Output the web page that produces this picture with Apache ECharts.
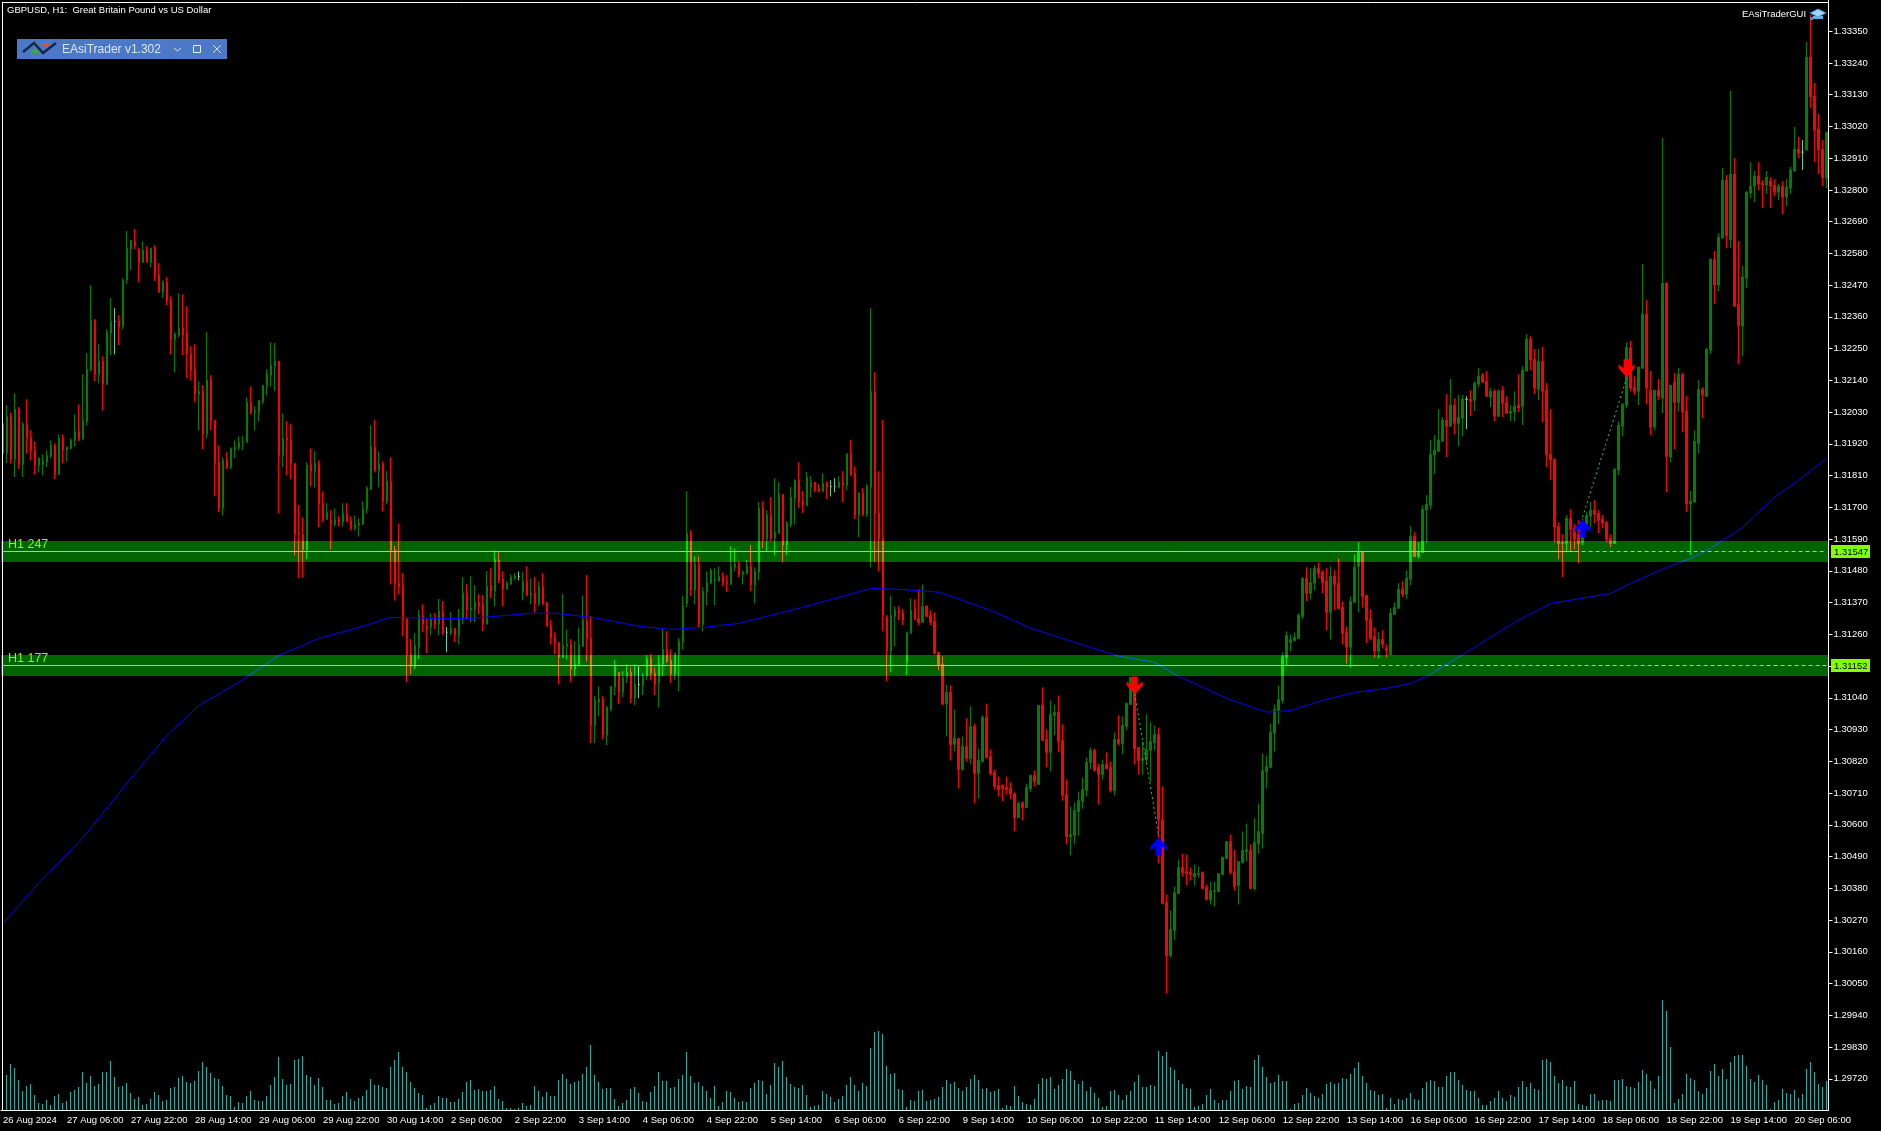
<!DOCTYPE html>
<html>
<head>
<meta charset="utf-8">
<title>GBPUSD H1</title>
<style>
  html, body { margin: 0; padding: 0; background: #000; }
  #main { width: 1881px; height: 1131px; }
</style>
<script src="https://cdn.jsdelivr.net/npm/echarts@6/dist/echarts.min.js"></script>
</head>
<body>
<div id="main"></div>
<script>
// prices are in points (1/100000)
const opens = [
131990,131888,132015,131868,132040,131849,131988,131943,131898,131846,
131849,131856,131877,131915,131814,131939,131898,131904,131932,131963,
131936,131998,132175,132348,132161,132206,132126,132303,132344,132345,
132327,132487,132594,132622,132594,132549,132591,132549,132598,132504,
132445,132480,132418,132282,132296,132321,132303,132234,132178,132092,
132102,131953,132140,132002,131856,131696,131863,131839,131901,131908,
131925,131925,132064,132029,132029,132067,132119,132158,132189,132206,
131880,131939,131936,131852,131610,131606,131554,131849,131825,131852,
131714,131658,131658,131641,131658,131648,131679,131655,131627,131638,
131641,131693,131762,131908,131828,131849,131721,131790,131554,131436,
131430,131312,131191,131149,131215,131323,131288,131285,131312,131295,
131340,131267,131264,131281,131257,131312,131403,131344,131347,131371,
131361,131295,131430,131409,131517,131451,131416,131433,131454,131460,
131406,131444,131395,131402,131367,131426,131371,131291,131250,131232,
131180,131218,131225,131139,131156,131218,131305,131247,130945,131025,
131035,130910,131000,131077,131129,131059,131108,131129,131039,131086,
131084,131115,131177,131125,131091,131156,131208,131170,131122,131191,
131233,131367,131610,131413,131503,131295,131406,131437,131447,131444,
131461,131440,131433,131492,131503,131468,131471,131496,131430,131475,
131697,131589,131673,131593,131610,131745,131569,131641,131732,131794,
131721,131707,131770,131787,131766,131756,131783,131772,131772,131770,
131787,131777,131884,131818,131673,131749,131676,131770,132102,131680,
131593,131319,131201,131322,131343,131336,131163,131263,131347,131315,
131302,131357,131326,131305,131198,131156,131019,131059,130878,130899,
130792,130871,130830,130941,130778,130819,130972,130837,130781,130736,
130736,130729,130726,130708,130625,130677,130660,130726,130771,130740,
131014,130896,130851,130979,130989,130892,130705,130559,130563,130646,
130681,130719,130816,130858,130799,130774,130809,130799,130719,130896,
130882,130941,131017,131066,130868,130823,130826,130858,130885,130913,
130618,130331,130147,130234,130362,130452,130438,130435,130421,130428,
130435,130383,130341,130369,130369,130428,130483,130542,130438,130390,
130469,130507,130511,130379,130535,130570,130785,130799,130917,130996,
131031,131180,131232,131239,131246,131322,131454,131402,131437,131489,
131475,131444,131336,131461,131437,131353,131267,131215,131371,131495,
131544,131395,131312,131253,131201,131242,131211,131190,131329,131350,
131416,131399,131451,131600,131530,131544,131690,131707,131881,131894,
131929,132002,131981,132054,131991,132009,132074,132074,132071,132127,
132158,132137,132082,132102,132016,132106,132064,132026,132030,132054,
132050,132172,132283,132213,132109,132206,132106,131884,131867,131634,
131579,131575,131662,131627,131607,131579,131641,131669,131690,131680,
131659,131648,131593,131575,131829,131981,132054,132252,132116,132102,
132182,132369,132106,131978,132106,132078,132477,131874,132134,132064,
132161,132033,131711,131718,131922,132109,132085,132245,132560,132470,
132633,132834,132626,132855,132404,132328,132494,132789,132813,132848,
132824,132817,132830,132817,132792,132813,132775,132806,132865,132941,
132931,132938,133260,133125,133011,132941,132841
]
const closes = [
131886,132015,131868,132040,131849,131988,131939,131894,131846,131870,
131859,131880,131915,131814,131939,131898,131908,131932,131963,131936,
132002,132178,132348,132161,132206,132126,132307,132345,132344,132324,
132487,132598,132626,132605,132549,132591,132549,132598,132501,132445,
132480,132414,132282,132300,132321,132296,132230,132175,132092,132102,
131953,132140,131998,131852,131696,131863,131839,131904,131908,131925,
131929,132064,132029,132033,132071,132123,132161,132192,132206,131880,
131939,131932,131849,131606,131606,131554,131846,131825,131852,131710,
131658,131683,131641,131658,131648,131679,131651,131627,131641,131644,
131696,131766,131911,131828,131849,131721,131790,131551,131436,131426,
131309,131188,131149,131222,131326,131295,131281,131312,131295,131340,
131264,131267,131281,131257,131312,131403,131344,131351,131371,131357,
131295,131427,131410,131520,131447,131416,131437,131458,131461,131460,
131444,131395,131402,131367,131426,131367,131288,131246,131229,131180,
131222,131225,131139,131159,131225,131309,131243,130945,131032,131035,
130910,131007,131080,131153,131059,131111,131129,131039,131087,131086,
131115,131177,131125,131087,131160,131208,131167,131122,131195,131236,
131358,131610,131413,131506,131298,131409,131440,131482,131451,131461,
131437,131433,131496,131503,131468,131475,131496,131430,131478,131697,
131589,131673,131593,131614,131745,131569,131645,131735,131794,131718,
131707,131804,131787,131759,131756,131783,131770,131772,131772,131787,
131777,131884,131815,131673,131749,131676,131773,132102,131680,131589,
131326,131201,131326,131343,131333,131309,131267,131343,131312,131302,
131357,131322,131302,131194,131153,131019,131059,130878,130899,130792,
130871,130830,130941,130778,130823,130972,130833,130778,130733,130722,
130726,130722,130708,130625,130674,130660,130729,130771,130750,131014,
130892,130851,130982,130989,130889,130702,130559,130566,130650,130684,
130722,130816,130858,130788,130774,130809,130795,130719,130896,130882,
130944,131020,131111,130864,130823,130830,130861,130889,130913,130618,
130327,130147,130237,130365,130452,130435,130431,130428,130431,130431,
130379,130341,130372,130372,130431,130487,130542,130435,130386,130473,
130511,130514,130379,130539,130577,130788,130802,130920,131000,131034,
131183,131256,131242,131249,131326,131454,131402,131440,131489,131471,
131440,131336,131461,131433,131350,131263,131215,131374,131492,131544,
131391,131308,131246,131201,131242,131225,131204,131333,131353,131416,
131399,131454,131600,131530,131544,131693,131711,131884,131898,131933,
132002,131981,132054,131991,132012,132075,132074,132068,132130,132154,
132134,132085,132102,132016,132102,132061,132026,132033,132050,132044,
132175,132283,132210,132113,132206,132102,131881,131863,131631,131575,
131575,131662,131624,131589,131575,131645,131673,131690,131676,131655,
131645,131589,131575,131832,131985,132057,132255,132113,132102,132186,
132369,132113,131978,132106,132085,132477,131877,132123,132064,132161,
132030,131711,131721,131929,132109,132089,132248,132560,132470,132636,
132834,132640,132855,132397,132331,132498,132792,132813,132848,132820,
132817,132844,132813,132792,132813,132775,132810,132869,132941,132928,
132931,133260,133122,133007,132938,132841,133000
]
const lows = [
131872,131854,131851,131805,131833,131805,131886,131863,131814,131821,
131811,131839,131870,131797,131811,131852,131859,131901,131911,131929,
131936,131984,132171,132137,132130,132036,132126,132227,132230,132262,
132317,132473,132522,132594,132480,132549,132549,132532,132484,132445,
132425,132400,132230,132168,132289,132227,132147,132140,132064,131967,
131901,131939,131967,131738,131683,131672,131832,131832,131870,131898,
131898,131925,132022,131967,131998,132057,132088,132119,132102,131679,
131839,131811,131797,131534,131454,131457,131520,131773,131769,131631,
131648,131658,131554,131634,131634,131634,131648,131620,131620,131599,
131641,131679,131762,131821,131769,131686,131710,131433,131377,131398,
131253,131094,131122,131139,131174,131267,131195,131257,131278,131257,
131257,131198,131257,131233,131226,131295,131312,131302,131302,131330,
131271,131295,131385,131357,131437,131357,131416,131433,131447,131447,
131378,131392,131364,131336,131357,131361,131288,131225,131191,131087,
131180,131173,131094,131114,131149,131218,131166,130883,130883,130976,
130896,130876,130993,131049,131018,131042,131091,131021,131014,131039,
131049,131101,131101,131049,131007,131115,131160,131091,131101,131063,
131208,131354,131392,131364,131284,131270,131361,131433,131361,131444,
131426,131406,131433,131478,131458,131433,131468,131409,131367,131447,
131558,131548,131582,131534,131610,131510,131534,131631,131641,131697,
131680,131704,131735,131752,131752,131752,131728,131738,131752,131766,
131718,131759,131808,131659,131596,131669,131666,131492,131510,131478,
131270,131097,131128,131218,131309,131291,131118,131263,131309,131291,
131302,131319,131291,131191,131135,131014,130906,130823,130854,130726,
130788,130819,130809,130674,130691,130816,130830,130771,130722,130698,
130681,130705,130688,130577,130622,130615,130660,130715,130733,130740,
130892,130799,130785,130910,130851,130684,130532,130494,130532,130563,
130656,130698,130792,130785,130670,130757,130792,130712,130702,130875,
130844,130927,131017,130809,130774,130774,130816,130747,130858,130466,
130324,130015,130140,130202,130362,130421,130390,130407,130390,130417,
130376,130338,130324,130317,130369,130424,130483,130428,130372,130324,
130466,130473,130379,130372,130500,130518,130726,130795,130854,130948,
131020,131152,131201,131235,131246,131312,131374,131381,131412,131454,
131402,131274,131242,131343,131346,131225,131159,131145,131367,131336,
131353,131229,131239,131180,131177,131211,131180,131190,131329,131350,
131388,131381,131430,131527,131523,131544,131579,131693,131815,131894,
131929,131874,131981,131953,131912,131946,131971,132016,132033,132116,
132130,132082,132047,131998,132012,132012,132023,131998,131998,132030,
131985,132172,132175,132092,132071,131995,131839,131794,131579,131520,
131458,131544,131548,131555,131506,131569,131638,131631,131645,131610,
131627,131579,131562,131575,131811,131946,132044,132102,132089,132054,
132182,132057,131950,131967,132071,132026,131752,131856,131901,132033,
131960,131683,131534,131718,131887,132009,132082,132231,132404,132449,
132633,132598,132598,132397,132196,132224,132460,132772,132758,132799,
132737,132785,132737,132778,132765,132716,132744,132785,132865,132910,
132869,132938,133084,132896,132855,132813,132806
]
const highs = [
131995,132054,132029,132095,132047,131995,132074,131967,131928,131873,
131884,131897,131932,131922,131953,131953,131911,131939,132022,132057,
132161,132234,132470,132352,132265,132223,132317,132425,132390,132366,
132494,132657,132626,132664,132598,132622,132605,132598,132608,132546,
132487,132497,132431,132307,132442,132438,132397,132258,132265,132137,
132123,132307,132158,132002,131915,131873,131891,131908,131932,131946,
131946,132081,132119,132050,132071,132123,132178,132272,132269,132206,
132026,131998,131988,131852,131707,131665,131856,131904,131894,131863,
131755,131714,131690,131696,131669,131714,131714,131669,131672,131662,
131721,131773,131984,132002,131894,131859,131825,131873,131568,131644,
131472,131319,131243,131264,131344,131364,131312,131333,131333,131382,
131375,131285,131337,131281,131347,131458,131434,131462,131430,131399,
131396,131479,131489,131551,131544,131478,131444,131468,131471,131478,
131475,131496,131454,131458,131444,131471,131371,131309,131267,131232,
131399,131277,131243,131236,131284,131395,131465,131323,131046,131080,
131046,131011,131080,131170,131129,131132,131156,131146,131156,131149,
131125,131188,131191,131146,131188,131278,131271,131208,131195,131247,
131392,131756,131621,131530,131530,131423,131478,131489,131489,131496,
131475,131465,131565,131558,131513,131482,131517,131569,131492,131718,
131721,131690,131735,131801,131787,131745,131652,131770,131797,131856,
131756,131822,131808,131787,131780,131818,131790,131794,131801,131808,
131825,131888,131933,131842,131752,131766,131780,132390,132168,131825,
132002,131326,131395,131357,131357,131347,131270,131385,131381,131416,
131433,131361,131343,131336,131198,131183,131086,131083,131000,130899,
130906,130969,131010,130951,130864,130979,131020,130861,130792,130767,
130740,130767,130747,130712,130681,130681,130743,130774,130788,131014,
131076,130930,131031,131017,131048,130948,130757,130663,130677,130715,
130764,130833,130868,130864,130812,130826,130851,130819,130920,130979,
130975,131024,131111,131066,130868,130889,130982,130955,130944,130937,
130733,130358,130303,130386,130480,130500,130497,130452,130462,130455,
130438,130393,130403,130403,130431,130490,130542,130566,130514,130473,
130577,130604,130532,130622,130674,130847,130840,130951,131017,131083,
131197,131270,131260,131267,131333,131457,131492,131489,131499,131509,
131482,131489,131495,131482,131523,131374,131287,131391,131537,131579,
131544,131395,131346,131284,131267,131274,131225,131350,131371,131437,
131444,131482,131634,131614,131579,131707,131742,131933,131950,132040,
132012,132092,132144,132078,132089,132089,132085,132106,132137,132182,
132165,132172,132113,132109,132109,132120,132085,132054,132102,132161,
132189,132300,132293,132248,132248,132255,132130,132040,131870,131648,
131607,131673,131693,131641,131655,131662,131683,131718,131725,131690,
131673,131652,131607,131836,131998,132061,132272,132276,132154,132186,
132543,132418,132172,132106,132144,132980,132477,132123,132165,132182,
132165,132085,131756,131967,132141,132116,132252,132560,132588,132650,
132876,132851,133143,132910,132622,132536,132796,132896,132865,132896,
132834,132865,132844,132837,132820,132830,132837,132879,133018,132983,
132973,133312,133406,133170,133063,132973,133000
]
// tick volume
const volumes = [
120,105,138,126,90,57,72,78,45,21,
18,30,15,42,48,21,27,54,60,69,
114,81,102,72,78,114,114,147,99,69,
72,81,51,33,39,15,18,33,54,45,
27,30,66,69,96,102,84,81,87,117,
144,129,111,96,93,72,45,42,9,24,
21,42,57,30,27,27,42,75,99,159,
93,75,78,150,153,162,105,99,75,96,
69,30,30,18,21,42,54,33,27,36,
42,60,93,75,75,69,66,129,150,174,
129,114,84,66,51,45,6,15,21,42,
36,36,24,24,33,54,84,90,60,63,
57,57,60,72,33,27,6,6,3,6,
21,12,15,72,57,39,54,42,42,90,
108,93,78,84,87,108,129,195,105,84,
63,66,66,33,12,21,30,63,69,51,
27,24,54,72,114,87,87,66,69,93,
105,174,102,81,84,72,57,36,72,12,
24,57,54,36,24,27,24,66,81,90,
87,48,75,141,129,147,99,78,69,66,
75,45,9,12,15,57,48,39,24,33,
42,75,99,75,57,81,72,186,234,237,
228,132,108,111,63,60,9,30,27,57,
60,27,30,33,39,69,90,78,84,66,
57,69,93,105,90,63,66,54,57,63,
6,15,12,72,42,24,18,15,33,78,
96,93,99,63,75,93,123,117,90,78,
87,57,69,51,36,9,12,57,60,45,
30,45,57,84,105,69,69,75,72,177,
162,174,129,120,90,78,66,63,9,12,
18,45,63,30,21,30,30,57,87,90,
63,72,69,150,165,129,99,81,84,105,
87,87,3,18,21,45,66,51,42,36,
48,78,84,78,81,96,93,108,126,144,
102,81,60,57,45,48,6,36,18,33,
30,36,51,33,30,66,84,90,87,69,
69,102,114,114,90,75,60,57,57,36,
15,15,27,36,57,36,27,45,39,69,
87,69,81,63,60,150,153,144,102,81,
90,72,69,87,18,15,12,48,48,27,
30,30,27,90,90,93,72,69,66,84,
120,108,87,63,102,330,297,189,21,33,
48,108,96,90,57,48,66,117,138,102,
123,93,144,162,165,165,132,93,84,105,
90,75,3,24,30,63,51,48,60,36,
48,123,144,114,78,69,87
]
// moving average, read at these bars
const maBars = [0,9,20,32,41,49,59,69,79,89,97,109,117,132,138,147,159,167,175,184,192,200,209,217,224,234,247,257,268,279,288,294,306,316,322,330,338,346,352,356,366,378,387,402,407,416,422,427,435,443,449,456]
const maValues = [130258,130400,130556,130761,130910,131014,131094,131187,131246,131284,131319,131315,131315,131333,131333,131319,131288,131277,131284,131298,131326,131354,131388,131419,131416,131406,131343,131281,131232,131184,131163,131114,131038,130990,130996,131031,131059,131073,131090,131114,131198,131302,131367,131402,131437,131492,131523,131558,131631,131735,131794,131870]

const timeLabels = ['26 Aug 2024','27 Aug 06:00','27 Aug 22:00','28 Aug 14:00','29 Aug 06:00','29 Aug 22:00','30 Aug 14:00','2 Sep 06:00','2 Sep 22:00','3 Sep 14:00','4 Sep 06:00','4 Sep 22:00','5 Sep 14:00','6 Sep 06:00','6 Sep 22:00','9 Sep 14:00','10 Sep 06:00','10 Sep 22:00','11 Sep 14:00','12 Sep 06:00','12 Sep 22:00','13 Sep 14:00','16 Sep 06:00','16 Sep 22:00','17 Sep 14:00','18 Sep 06:00','18 Sep 22:00','19 Sep 14:00','20 Sep 06:00']
const priceTicks = [1.3335,1.3324,1.3313,1.3302,1.3291,1.328,1.3269,1.3258,1.3247,1.3236,1.3225,1.3214,1.3203,1.3192,1.3181,1.317,1.3159,1.3148,1.3137,1.3126,1.3104,1.3093,1.3082,1.3071,1.306,1.3049,1.3038,1.3027,1.3016,1.3005,1.2994,1.2983,1.2972]

const zoneNames = ['H1 247', 'H1 177']
const zoneLevels = [1.31547, 1.31152]
const zoneTops = [1.31583, 1.31188]
const zoneBottoms = [1.31511, 1.31116]
const levelSolidEnd = [393, 343]

// entry and exit markers: [bar, price]
const sellArrows = [[283, 1.31083], [406, 1.32182]]
const buyArrows = [[289, 1.30525], [395, 1.31627]]
const tradeLinks = [
  [[283, 1.31055], [289, 1.30563]],
  [[395, 1.31666], [406, 1.32147]]
]

const UI_FONT = '"Liberation Sans", sans-serif'
const LEVEL_COLOR = '#7FFF00'

const chart = echarts.init(document.getElementById('main'))

const categories = opens.map((v, i) => String(i))
const candles = opens.map((o, i) => [o / 1e5, closes[i] / 1e5, lows[i] / 1e5, highs[i] / 1e5])
const maData = maBars.map((b, i) => [b, maValues[i] / 1e5])

const arrowUp = 'path://M8 0L16 9L16 13L11 9L11 18L5 18L5 9L0 13L0 9Z'
const arrowDown = 'path://M5 0L11 0L11 9L16 5L16 9L8 18L0 9L0 5L5 9Z'

function plainLine(name, data, z, style) {
  return {
    name: name,
    type: 'line',
    data: data,
    z: z,
    silent: true,
    showSymbol: false,
    symbol: 'none',
    animation: false,
    lineStyle: style
  }
}

const levelSeries = []
zoneLevels.forEach((v, i) => {
  levelSeries.push(plainLine('level' + i, [[0, v], [levelSolidEnd[i], v]], 6, { color: LEVEL_COLOR, width: 1 }))
  levelSeries.push(plainLine('levelDash' + i, [[levelSolidEnd[i], v], [456, v]], 6, { color: LEVEL_COLOR, width: 1, type: [4, 3] }))
})

const linkSeries = tradeLinks.map((d, i) => plainLine('link' + i, d, 7, { color: '#32CD32', width: 1, type: [2, 3] }))

// one pixel sticks, a bar series smears them over two columns
function renderVolume(params, api) {
  const p = api.coord([api.value(0), api.value(1)])
  const x = Math.floor(p[0]) + 0.5
  return {
    type: 'line',
    shape: { x1: x, y1: Math.round(p[1]), x2: x, y2: params.coordSys.y + params.coordSys.height },
    style: { stroke: '#20B2AA', lineWidth: 1 }
  }
}

// zones are added on top of the candles with blendMode, like the terminal does it
function renderZone(params, api) {
  const cs = params.coordSys
  const top = Math.round(api.coord([0, api.value(1)])[1])
  const bottom = Math.round(api.coord([0, api.value(2)])[1])
  return {
    type: 'rect',
    shape: { x: cs.x, y: top, width: cs.width, height: bottom - top },
    style: { fill: '#006400' }
  }
}

function renderZoneLabels(params, api) {
  const i = params.dataIndex
  const cs = params.coordSys
  const top = Math.round(api.coord([0, zoneTops[i]])[1])
  const mid = Math.floor(api.coord([0, api.value(1)])[1])
  return {
    type: 'group',
    children: [
      {
        type: 'text',
        style: { text: zoneNames[i], x: 8, y: top + 4, fill: LEVEL_COLOR, font: '12.5px ' + UI_FONT, verticalAlign: 'middle' }
      },
      {
        type: 'rect',
        shape: { x: cs.x + cs.width + 2.5, y: mid - 6, width: 39, height: 13 },
        style: { fill: LEVEL_COLOR }
      },
      {
        type: 'text',
        style: { text: zoneLevels[i].toFixed(5), x: cs.x + cs.width + 5.5, y: mid + 1, fill: '#000', font: '9.5px ' + UI_FONT, verticalAlign: 'middle' }
      }
    ]
  }
}

chart.setOption({
  animation: false,
  backgroundColor: '#000',
  grid: { left: 0.5, top: 0, width: 1828, height: 1110, containLabel: false },
  xAxis: {
    type: 'category',
    data: categories,
    boundaryGap: true,
    axisLine: { lineStyle: { color: '#fff', width: 1 } },
    axisTick: { alignWithLabel: true, interval: 15, length: 5, lineStyle: { color: '#fff' } },
    axisLabel: {
      interval: 15,
      color: '#fff',
      fontFamily: UI_FONT,
      fontSize: 9.5,
      align: 'left',
      margin: 5,
      hideOverlap: false,
      formatter: (v, idx) => timeLabels[idx / 16] || ''
    },
    splitLine: { show: false }
  },
  yAxis: [
    {
      type: 'value',
      position: 'right',
      min: 1.296119,
      max: 1.334579,
      splitLine: { show: false },
      axisLine: { show: true, lineStyle: { color: '#fff', width: 1 } },
      axisTick: { show: true, length: 4, lineStyle: { color: '#fff' }, customValues: priceTicks.concat([1.3115]) },
      axisLabel: {
        color: '#fff',
        fontFamily: UI_FONT,
        fontSize: 9.5,
        margin: 5,
        customValues: priceTicks,
        formatter: (v) => v.toFixed(5)
      }
    },
    { type: 'value', show: false, min: 0, max: 3330, splitLine: { show: false } }
  ],
  series: [
    {
      name: 'volume',
      type: 'custom',
      yAxisIndex: 1,
      renderItem: renderVolume,
      data: volumes.map((v, i) => [i, v]),
      encode: { x: 0, y: 1 },
      z: 2,
      silent: true,
      clip: false
    },
    {
      name: 'GBPUSD',
      type: 'candlestick',
      data: candles,
      barWidth: 2,
      z: 3,
      silent: true,
      large: false,
      progressive: 0,
      itemStyle: {
        color: '#008000',
        color0: '#FF0000',
        borderColor: '#008000',
        borderColor0: '#FF0000',
        borderColorDoji: '#66CDAA',
        borderWidth: 1
      }
    },
    plainLine('ma', maData, 4, { color: '#0000FF', width: 1 }),
    {
      name: 'zones',
      type: 'custom',
      renderItem: renderZone,
      blendMode: 'lighter',
      data: zoneTops.map((t, i) => [0, t, zoneBottoms[i]]),
      encode: { x: 0, y: [1, 2] },
      z: 5,
      silent: true,
      clip: false
    },
    {
      name: 'zoneLabels',
      type: 'custom',
      renderItem: renderZoneLabels,
      data: zoneLevels.map((v) => [0, v]),
      encode: { x: 0, y: 1 },
      z: 7,
      silent: true,
      clip: false
    }
  ].concat(levelSeries, linkSeries, [
    {
      name: 'sell',
      type: 'scatter',
      data: sellArrows,
      symbol: arrowDown,
      symbolSize: [16, 18],
      z: 8,
      silent: true,
      itemStyle: { color: '#FF0000', opacity: 1 }
    },
    {
      name: 'buy',
      type: 'scatter',
      data: buyArrows,
      symbol: arrowUp,
      symbolSize: [16, 18],
      z: 8,
      silent: true,
      itemStyle: { color: '#0000FF', opacity: 1 }
    }
  ]),
  graphic: [
    // chart frame
    { type: 'line', z: 20, shape: { x1: 2.5, y1: 2, x2: 2.5, y2: 1110 }, style: { stroke: '#fff', lineWidth: 1 } },
    { type: 'line', z: 20, shape: { x1: 2, y1: 2.5, x2: 1829, y2: 2.5 }, style: { stroke: '#fff', lineWidth: 1 } },
    { type: 'text', z: 20, style: { text: 'GBPUSD, H1:  Great Britain Pound vs US Dollar', x: 7, y: 10, fill: '#fff', font: '9.5px ' + UI_FONT, verticalAlign: 'middle' } },
    { type: 'text', z: 20, style: { text: 'EAsiTraderGUI', x: 1742, y: 14, fill: '#fff', font: '9.5px ' + UI_FONT, verticalAlign: 'middle' } },
    // graduation hat
    { type: 'polygon', z: 20, shape: { points: [[1810, 13], [1818, 9], [1826, 13], [1818, 17]] }, style: { fill: '#9FD3F0', stroke: '#3C8FD0', lineWidth: 1 } },
    { type: 'rect', z: 20, shape: { x: 1813, y: 16, width: 10, height: 3 }, style: { fill: '#5FAFE5' } },
    { type: 'rect', z: 20, shape: { x: 1810, y: 17, width: 3, height: 3 }, style: { fill: '#3C8FD0' } },
    // EAsiTrader panel
    { type: 'rect', z: 20, shape: { x: 17, y: 39, width: 210, height: 20 }, style: { fill: '#4C78C8' } },
    { type: 'polyline', z: 20, shape: { points: [[23, 52], [34, 43], [43, 53], [56, 43]] }, style: { stroke: '#14284F', lineWidth: 2.5, fill: 'none' } },
    { type: 'polygon', z: 20, shape: { points: [[30, 53], [40, 53], [35, 48]] }, style: { fill: '#38A848' } },
    { type: 'polygon', z: 20, shape: { points: [[41, 43], [51, 43], [46, 48]] }, style: { fill: '#E05040' } },
    { type: 'text', z: 20, style: { text: 'EAsiTrader v1.302', x: 62, y: 50, fill: '#D8E4F6', font: '12px ' + UI_FONT, verticalAlign: 'middle' } },
    { type: 'polyline', z: 20, shape: { points: [[174, 48], [177.5, 51], [181, 48]] }, style: { stroke: '#D8E4F6', lineWidth: 1, fill: 'none' } },
    { type: 'rect', z: 20, shape: { x: 193.5, y: 45.5, width: 7, height: 7 }, style: { stroke: '#E8EEF8', lineWidth: 1, fill: 'none' } },
    { type: 'line', z: 20, shape: { x1: 213, y1: 45, x2: 221, y2: 53 }, style: { stroke: '#D8E4F6', lineWidth: 1 } },
    { type: 'line', z: 20, shape: { x1: 221, y1: 45, x2: 213, y2: 53 }, style: { stroke: '#D8E4F6', lineWidth: 1 } }
  ]
})

// sanity check on the hand-read arrays
if ([closes, lows, highs, volumes].some((a) => a.length !== opens.length)) {
  throw new Error('length mismatch ' + [opens.length, closes.length, lows.length, highs.length, volumes.length].join(','))
}
</script>
</body>
</html>
